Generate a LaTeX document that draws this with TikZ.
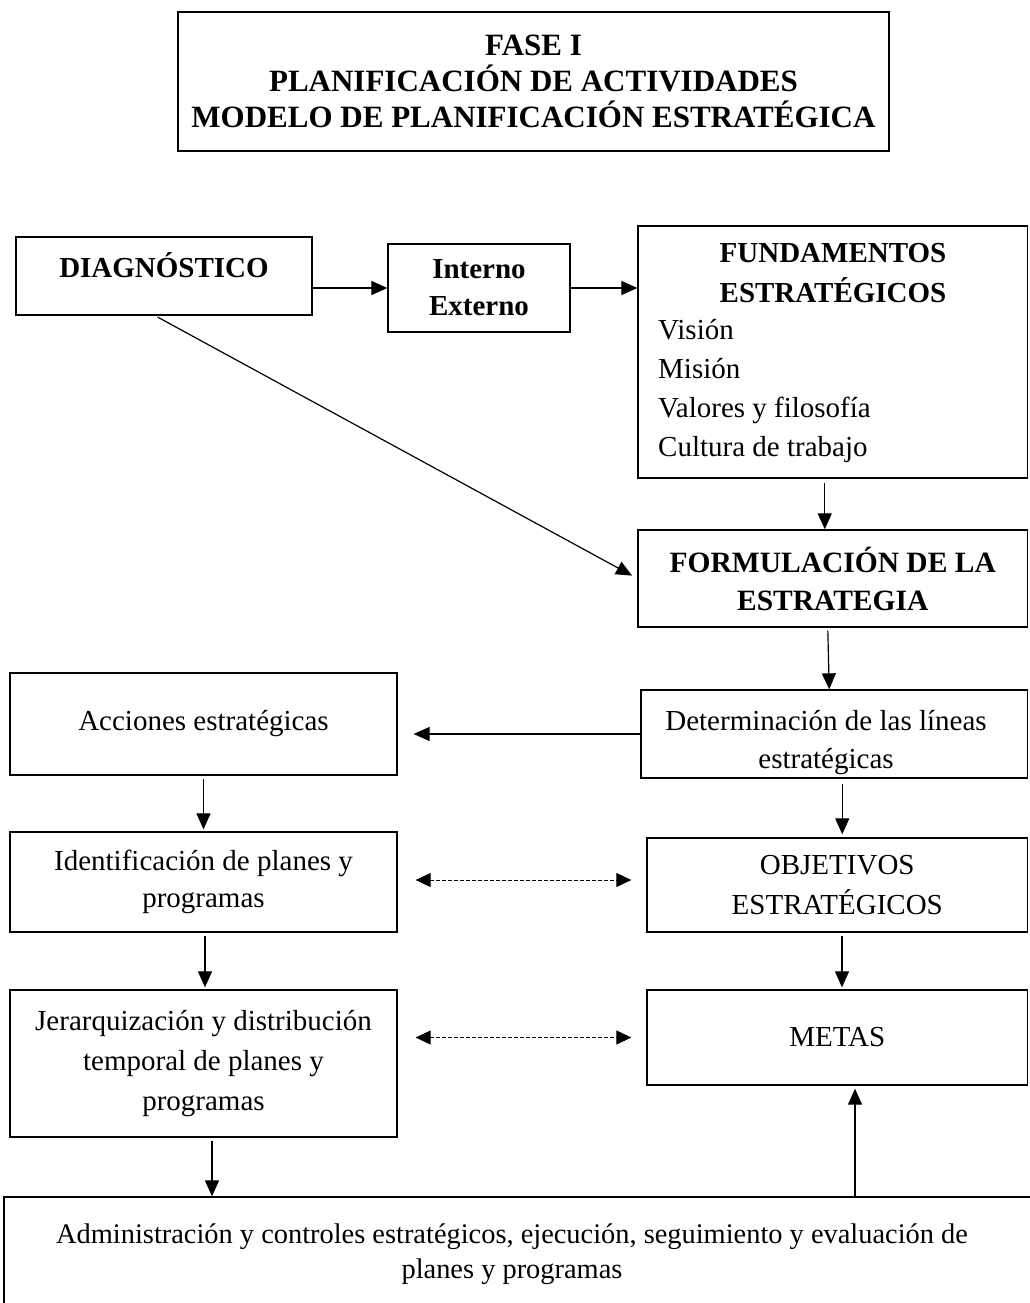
\documentclass[tikz,border=0pt]{standalone}
\usepackage{fontspec}
\setmainfont{Liberation Serif}
\usetikzlibrary{arrows.meta}
\begin{document}
\begin{tikzpicture}[x=1pt,y=-1pt,
  box/.style={draw, line width=1.3pt, inner sep=0pt, align=center,
              font=\fontsize{29}{39}\selectfont},
  txt/.style={inner sep=0pt, font=\fontsize{29}{39}\selectfont},
  arr/.style={line width=1.2pt, -{Triangle[length=16pt,width=14pt]}},
  darr/.style={line width=0.9pt, dash pattern=on 4pt off 2pt,
               {Triangle[length=15pt,width=14pt]}-{Triangle[length=15pt,width=14pt]}}]
\useasboundingbox (0,0) rectangle (1029,1303);

% title
\node[box, minimum width=711pt, minimum height=139pt,
      font=\bfseries\fontsize{31}{36}\selectfont] (title) at (533.5,81.5)
  {FASE I\\PLANIFICACIÓN DE ACTIVIDADES\\MODELO DE PLANIFICACIÓN ESTRATÉGICA};

% upper row
\node[box, minimum width=296pt, minimum height=78pt] (diag) at (164,276) {};
\node[txt, font=\bfseries\fontsize{29}{39}\selectfont] (diagtext) at (164,265) {DIAGNÓSTICO};

\node[box, minimum width=182pt, minimum height=88pt,
      font=\bfseries\fontsize{29}{37}\selectfont] (intext) at (479,288) {Interno\\Externo};

\node[box, minimum width=389.5pt, minimum height=252pt] (fund) at (832.75,352) {};
\node[txt, align=center, font=\bfseries\fontsize{29}{40}\selectfont] (fundhead) at (833,273)
  {FUNDAMENTOS\\ESTRATÉGICOS};
\node[txt, align=left, anchor=west] (fundlist) at (658,391)
  {Visión\\Misión\\Valores y filosofía\\Cultura de trabajo};

\node[box, minimum width=389.5pt, minimum height=97pt,
      font=\bfseries\fontsize{29.5}{38}\selectfont] (form) at (832.75,578.5)
  {FORMULACIÓN DE LA\\ESTRATEGIA};

% middle rows
\node[box, minimum width=386.5pt, minimum height=88pt] (det) at (834.25,734) {};
\node[txt, align=center, font=\fontsize{29}{38}\selectfont] (dettext) at (826,743)
  {Determinación de las líneas\\estratégicas};
\node[box, minimum width=387pt, minimum height=102pt] (acc) at (203.5,724) {Acciones estratégicas};

\node[box, minimum width=387pt, minimum height=100pt, font=\fontsize{29}{37}\selectfont]
  (ident) at (203.5,882) {Identificación de planes y\\programas};
\node[box, minimum width=380.5pt, minimum height=94pt, font=\fontsize{29}{40}\selectfont]
  (obj) at (837.25,885) {OBJETIVOS\\ESTRATÉGICOS};

\node[box, minimum width=380.5pt, minimum height=95pt] (metas) at (837.25,1037.5) {METAS};
\node[box, minimum width=387pt, minimum height=147pt, font=\fontsize{29}{40}\selectfont]
  (jer) at (203.5,1063.5) {Jerarquización y distribución\\temporal de planes y\\programas};

% bottom box
\node[box, minimum width=1027pt, minimum height=107pt] (admin) at (517.5,1250.5) {};
\node[txt, align=center, font=\fontsize{28.4}{35}\selectfont] (admintext) at (512,1254)
  {Administración y controles estratégicos, ejecución, seguimiento y evaluación de\\planes y programas};

% connectors
\draw[arr] (diag.east |- intext.west) -- (intext.west);
\draw[arr] (intext.east) -- (intext.east -| fund.west);
\draw[arr, shorten <=4pt] ([xshift=-8pt]fund.south) -- ([xshift=-8pt]form.north);
\draw[arr, shorten <=3pt, shorten >=6pt] ([xshift=-9pt]diag.south) -- (form.west);
\draw[arr, shorten <=3pt] ([xshift=-5pt]form.south) -- ([xshift=-5pt]det.north);
\draw[arr, shorten >=16pt] (det.west) -- (det.west -| acc.east);
\draw[arr, shorten <=3pt, shorten >=2pt] (acc.south) -- (ident.north);
\draw[arr, shorten <=5pt, shorten >=3pt] ([xshift=8pt]det.south) -- ([xshift=8pt]det.south |- obj.north);
\draw[darr, shorten <=18pt, shorten >=15pt] ([yshift=2pt]ident.east) -- ([yshift=2pt]ident.east -| obj.west);
\draw[arr, shorten <=3pt, shorten >=2pt] (obj.south -| 842,0) -- (metas.north -| 842,0);
\draw[darr, shorten <=18pt, shorten >=15pt] (metas.west -| jer.east) -- (metas.west);
\draw[arr, shorten <=3pt, shorten >=2pt] (ident.south -| 205,0) -- (jer.north -| 205,0);
\draw[arr, shorten <=3pt] (jer.south -| 212,0) -- (admin.north -| 212,0);
\draw[arr, shorten >=3pt] (admin.north -| 855,0) -- (metas.south -| 855,0);
\end{tikzpicture}
\end{document}
